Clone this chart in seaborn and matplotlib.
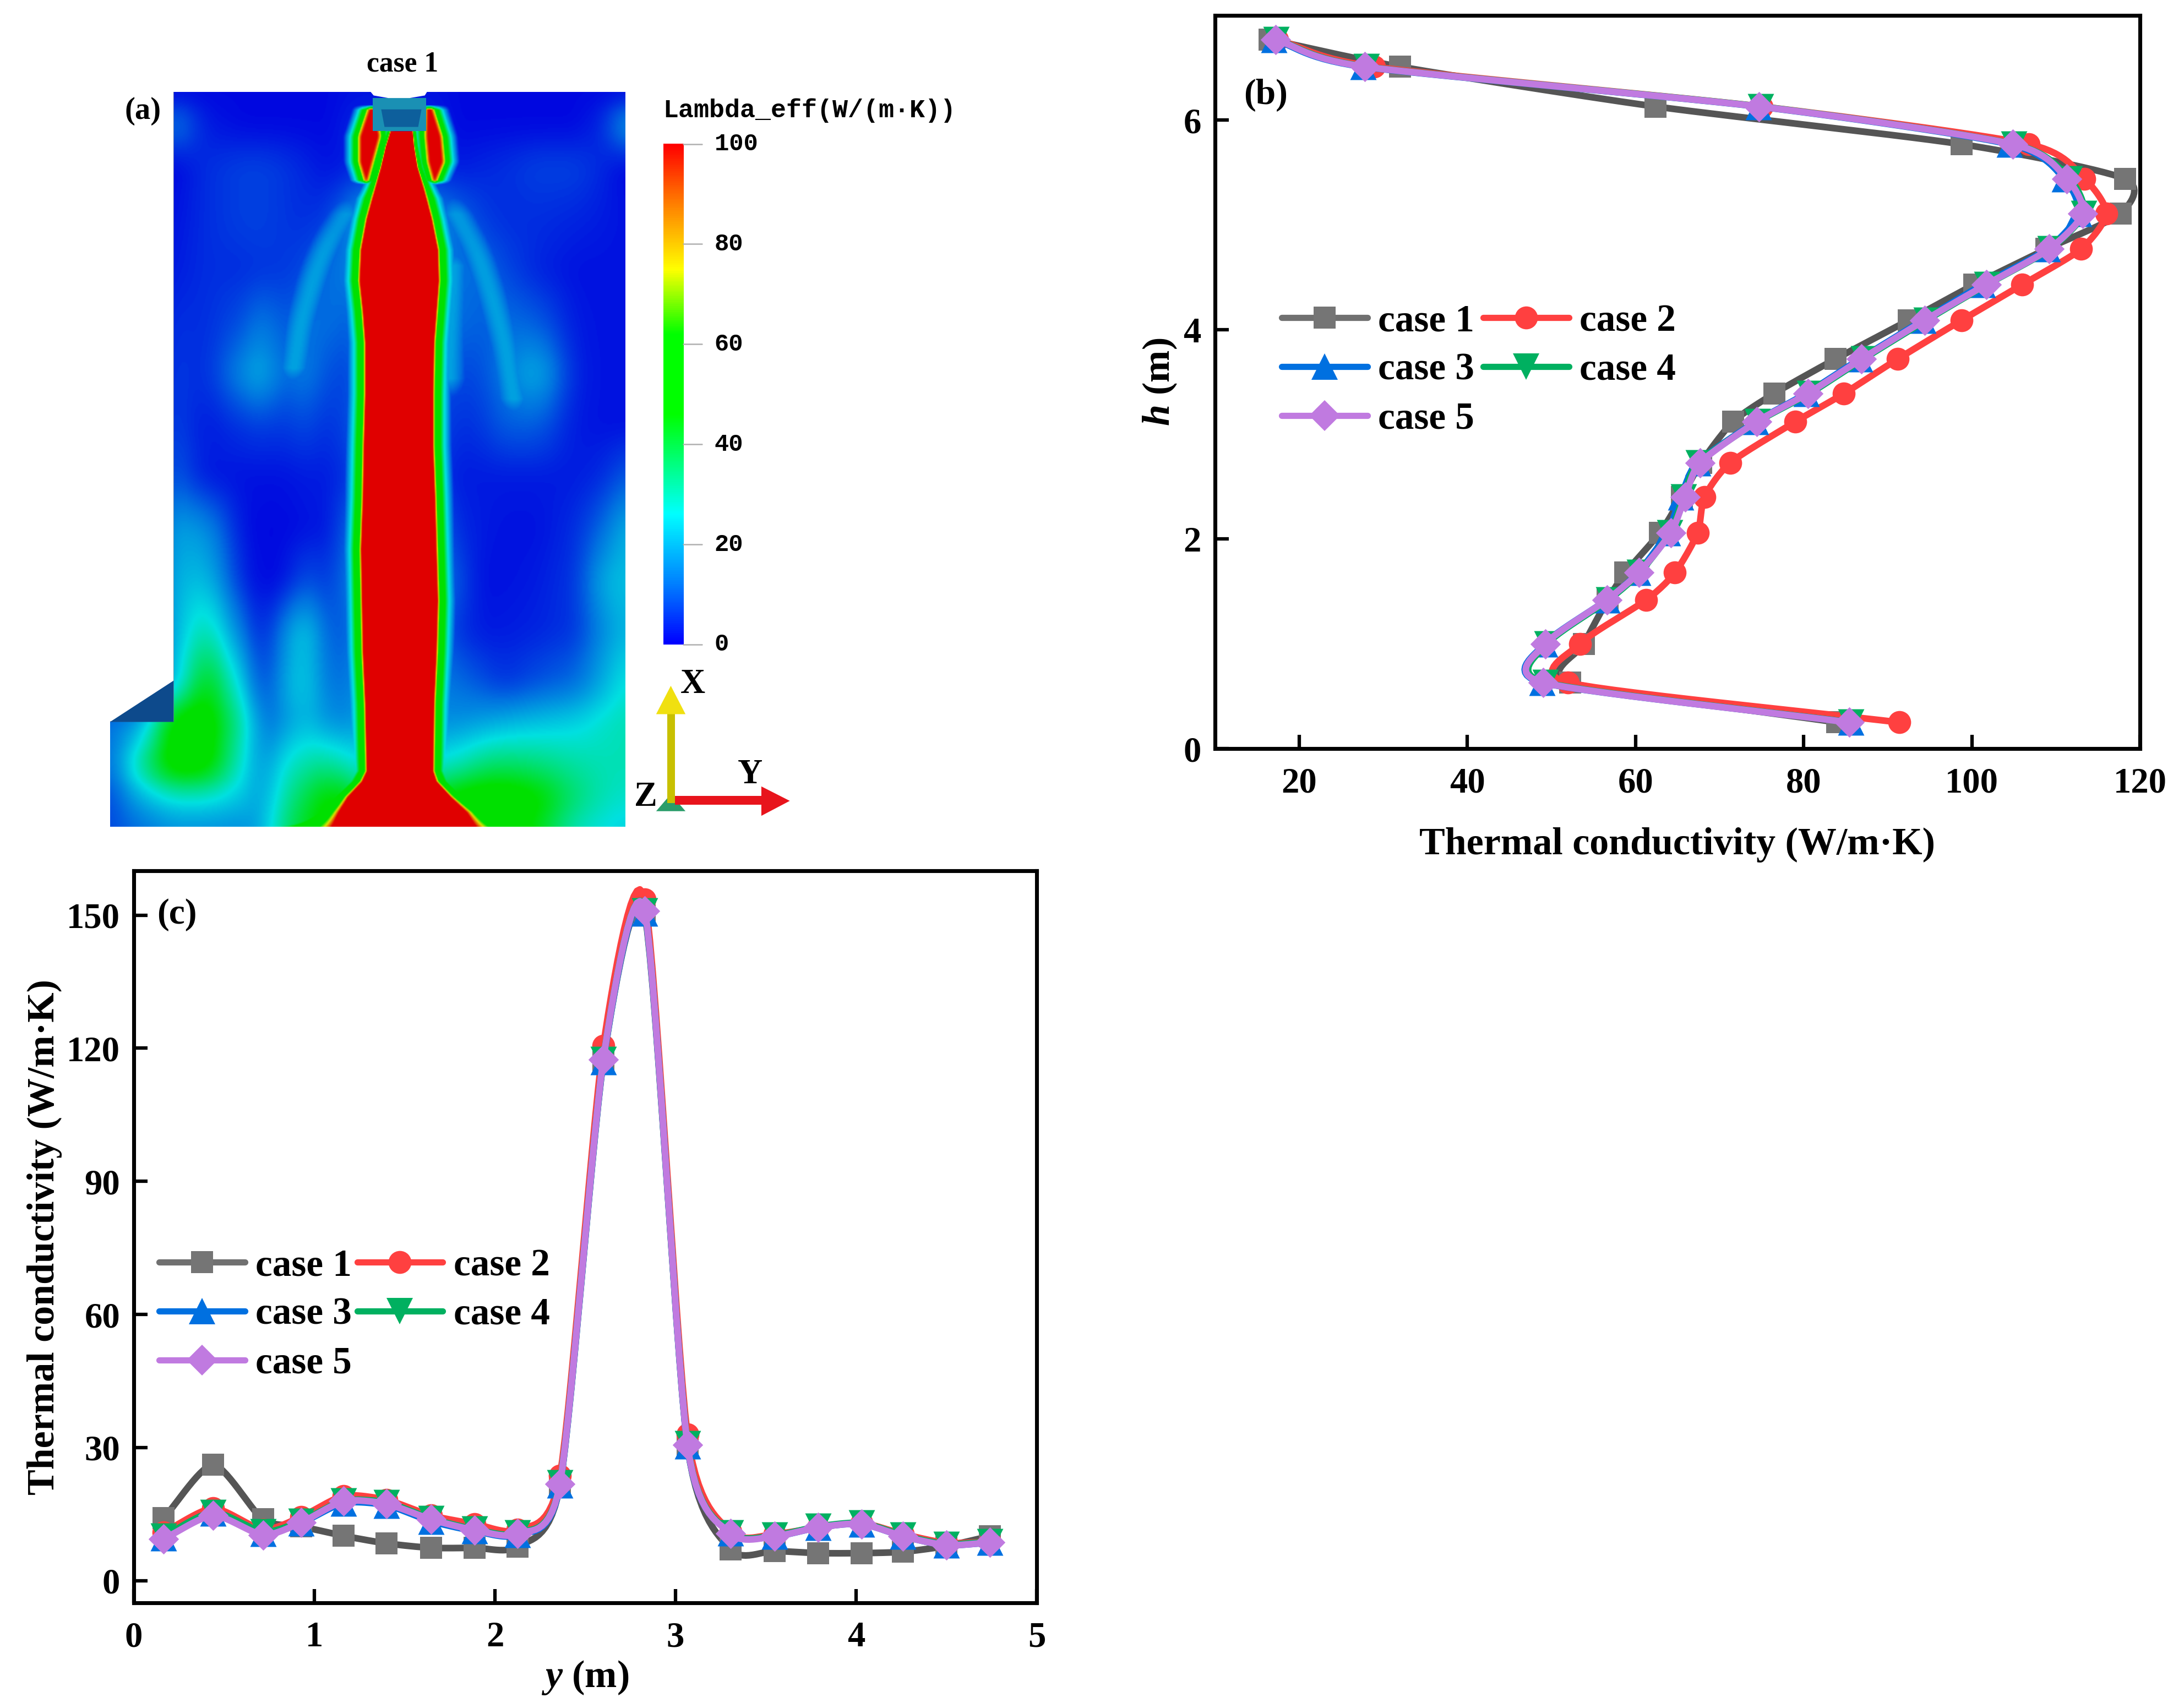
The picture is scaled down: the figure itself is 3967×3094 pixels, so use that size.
import numpy as np
import pandas as pd
import matplotlib
matplotlib.use("Agg")
import matplotlib.pyplot as plt
import seaborn as sns
from matplotlib.colors import LinearSegmentedColormap, to_rgb
from matplotlib.lines import Line2D

# panel (b): profile along height
h_pos = [6.77, 6.51, 6.13, 5.77, 5.44, 5.11, 4.77, 4.43, 4.09, 3.72,
         3.39, 3.12, 2.73, 2.40, 2.06, 1.68, 1.42, 1.00, 0.63, 0.25]
b_case1 = [16.5, 32.0, 62.4, 98.8, 118.2, 117.7, 108.9, 100.3, 92.5, 83.8,
           76.5, 71.6, 67.8, 65.5, 62.9, 58.8, 56.7, 53.9, 52.2, 84.0]
b_case2 = [17.4, 28.9, 75.0, 106.8, 113.4, 116.0, 113.0, 106.0, 98.8, 91.2,
           84.8, 79.0, 71.3, 68.2, 67.4, 64.7, 61.3, 53.4, 52.0, 91.4]
b_case3 = [17.0, 27.6, 74.6, 104.5, 111.0, 112.7, 109.0, 101.3, 94.2, 86.7,
           80.3, 74.3, 67.4, 65.4, 63.8, 60.3, 56.6, 49.2, 48.9, 85.6]
b_case4 = [17.3, 28.0, 74.9, 105.0, 111.6, 113.3, 109.3, 101.8, 94.6, 87.1,
           80.7, 74.5, 67.5, 65.7, 64.1, 60.5, 56.8, 49.5, 49.3, 85.6]
b_case5 = [17.2, 27.8, 74.7, 104.9, 111.3, 113.2, 109.2, 101.7, 94.4, 86.9,
           80.5, 74.4, 67.7, 65.9, 64.2, 60.4, 56.6, 49.3, 49.0, 85.4]

# panel (c): profile along y
y_pos = [0.166, 0.44, 0.715, 0.927, 1.162, 1.40, 1.646, 1.887, 2.126, 2.36,
         2.60, 2.83, 3.066, 3.306, 3.55, 3.79, 4.03, 4.26, 4.50, 4.74]
c_case1 = [14.1, 26.1, 13.8, 12.2, 10.1, 8.4, 7.4, 7.4, 7.7, 21.5,
           117.0, 150.0, 30.5, 7.0, 6.7, 6.2, 6.2, 6.5, 7.8, 10.0]
c_case2 = [10.9, 16.3, 11.5, 14.4, 19.1, 18.2, 14.7, 12.8, 11.5, 23.6,
           120.5, 153.5, 33.0, 11.0, 10.5, 12.0, 13.0, 10.5, 8.5, 8.8]
c_case3 = [9.6, 15.2, 10.6, 13.0, 17.5, 17.0, 13.4, 11.2, 10.4, 21.5,
           117.0, 150.5, 30.4, 10.8, 10.0, 12.0, 12.8, 10.0, 8.0, 8.6]
c_case4 = [10.0, 15.4, 11.0, 13.4, 18.0, 17.6, 14.0, 11.6, 10.8, 22.0,
           117.5, 151.0, 30.8, 10.8, 10.2, 12.2, 13.0, 10.2, 8.2, 8.8]
c_case5 = [9.4, 14.7, 10.3, 13.1, 17.9, 17.3, 13.8, 11.4, 10.6, 21.8,
           117.4, 150.9, 30.6, 10.6, 10.0, 12.0, 12.8, 10.0, 8.0, 8.6]

case_names = ["case 1", "case 2", "case 3", "case 4", "case 5"]
line_colors = ["#555555", "#ff4040", "#0070e0", "#00b060", "#c07ae0"]
marker_colors = ["#757575", "#ff4040", "#0070e0", "#00b060", "#c07ae0"]
legend_line_colors = ["#707070", "#ff4040", "#0070e0", "#00b060", "#c07ae0"]
marker_shapes = ["s", "o", "^", "v", "D"]
marker_sizes = [9.4, 10.0, 11.5, 11.5, 9.4]

# panel (a): background field
bg_u = [58, 120, 192, 260, 340, 380, 420, 470, 520, 570, 650, 740, 790, 840, 890, 960, 1040, 1100, 1145]
bg_v = [115, 175, 260, 360, 460, 560, 660, 760, 860, 960, 1060, 1160, 1260, 1335, 1420, 1480, 1538]
bg_vals = [
    [1, 1, 1, 1, 1, 1, 1, 1, 1, 2, 2, 2, 1, 1, 1, 1, 1, 1, 1],
    [1, 1, 14, 3, 1, 1, 1, 1, 1, 4, 4, 4, 1, 1, 1, 1, 1, 5, 18],
    [1, 1, 1, 5, 7, 7, 6, 4, 2, 4, 6, 4, 3, 4, 5, 7, 7, 4, 1],
    [1, 1, 2, 5, 7, 7, 6, 5, 7, 16, 24, 16, 12, 7, 5, 5, 4, 3, 2],
    [1, 1, 3, 5, 5, 6, 6, 8, 12, 14, 24, 14, 12, 12, 8, 4, 2, 2, 2],
    [1, 1, 5, 5, 9, 14, 9, 12, 12, 10, 24, 10, 12, 10, 12, 10, 3, 2, 2],
    [1, 1, 6, 5, 16, 20, 11, 14, 8, 8, 24, 8, 8, 8, 14, 20, 4, 2, 2],
    [1, 1, 7, 3, 6, 7, 6, 8, 5, 9, 24, 9, 5, 6, 10, 10, 3, 2, 2],
    [1, 1, 10, 3, 2, 2, 2, 3, 3, 7, 24, 7, 3, 3, 3, 3, 3, 5, 10],
    [1, 1, 18, 16, 2, 1, 1, 2, 3, 13, 24, 13, 5, 3, 2, 2, 5, 12, 20],
    [1, 1, 20, 22, 4, 1, 2, 9, 6, 15, 24, 15, 9, 2, 2, 3, 6, 20, 22],
    [1, 1, 20, 32, 12, 3, 14, 24, 9, 12, 24, 12, 6, 3, 3, 4, 6, 16, 21],
    [1, 1, 22, 46, 22, 6, 18, 24, 12, 14, 24, 14, 12, 9, 6, 9, 12, 20, 27],
    [12, 18, 50, 52, 30, 12, 16, 22, 16, 16, 24, 16, 16, 18, 20, 22, 24, 28, 30],
    [12, 33, 52, 50, 26, 16, 26, 32, 34, 28, 24, 28, 30, 36, 38, 36, 32, 30, 30],
    [8, 20, 28, 28, 22, 18, 30, 40, 48, 44, 24, 44, 50, 52, 52, 48, 36, 30, 28],
    [8, 12, 16, 16, 16, 20, 34, 44, 50, 52, 24, 52, 52, 54, 52, 44, 30, 26, 24],
]

# red core outline
plume_v = [190, 220, 260, 300, 360, 420, 480, 540, 600, 700, 800, 900, 1000, 1100, 1200, 1300, 1430, 1450, 1480, 1510, 1538]
plume_l = [650, 640, 630, 618, 600, 588, 585, 592, 597, 597, 594, 592, 588, 590, 592, 597, 600, 590, 560, 540, 525]
plume_r = [695, 698, 705, 718, 735, 748, 750, 745, 740, 738, 738, 742, 745, 748, 745, 740, 738, 745, 775, 810, 830]
ear_v = [145, 200, 250, 290]
ear_left_l = [605, 585, 585, 598]
ear_left_r = [615, 625, 610, 598]
ear_right_l = [726, 725, 730, 742]
ear_right_r = [736, 755, 760, 742]
halo_dist = [0, 3, 6, 16, 24, 45]
halo_val = [100, 75, 58, 47, 28, 0]
flare_v = [190, 320, 1430, 1538]
flare_scale = [2.5, 1.0, 1.0, 0.2]

# thin wings either side of the plume
wing_left_v = [320, 360, 400, 460, 560, 680]
wing_left_u = [575, 550, 520, 492, 460, 440]
wing_right_v = [320, 420, 500, 600, 740]
wing_right_u = [770, 830, 860, 890, 915]
wing_inner_v = [420, 500, 600, 700]
wing_inner_u = [780, 778, 772, 770]
wing_dist = [0, 14, 45]
wing_val = [26, 20, 0]

# colour bar
cbar_stops = [0, 12, 26, 36, 46, 62, 75, 88, 100]
cbar_colors = ["#0000ff", "#0080ff", "#00ffff", "#00ff80", "#00ff00", "#00ff00", "#ffff00", "#ff8000", "#ff0000"]
cbar_ticks = [0, 20, 40, 60, 80, 100]

sns.set_theme(style="ticks")
plt.rcParams["font.family"] = ["Liberation Serif", "DejaVu Serif"]
plt.rcParams["font.weight"] = "bold"
plt.rcParams["axes.labelweight"] = "bold"
plt.rcParams["mathtext.fontset"] = "custom"
plt.rcParams["mathtext.rm"] = "Liberation Serif:bold"
plt.rcParams["mathtext.it"] = "Liberation Serif:italic:bold"
plt.rcParams["xtick.direction"] = "in"
plt.rcParams["ytick.direction"] = "in"
plt.rcParams["text.color"] = "black"
plt.rcParams["axes.labelcolor"] = "black"

FIG_W, FIG_H = 3967, 3094
fig = plt.figure(figsize=(FIG_W / 300, FIG_H / 300), dpi=300, facecolor="white")


def px_axes(left, top, right, bottom):
    return fig.add_axes([left / FIG_W, 1 - bottom / FIG_H, (right - left) / FIG_W, (bottom - top) / FIG_H])


def smooth_curve(x, y, n=14, tension=0.72):
    # cardinal spline through the points, the figure's curves are splines
    p = np.column_stack([x, y]).astype(float)
    p = np.vstack([2 * p[0] - p[1], p, 2 * p[-1] - p[-2]])
    out = []
    t = np.linspace(0, 1, n, endpoint=False)[:, None]
    h00 = 2 * t**3 - 3 * t**2 + 1
    h10 = t**3 - 2 * t**2 + t
    h01 = -2 * t**3 + 3 * t**2
    h11 = t**3 - t**2
    for i in range(1, len(p) - 2):
        m0 = tension * (p[i + 1] - p[i - 1]) / 2
        m1 = tension * (p[i + 2] - p[i]) / 2
        out.append(h00 * p[i] + h10 * m0 + h01 * p[i + 1] + h11 * m1)
    out.append(p[-2][None, :])
    out = np.vstack(out)
    return out[:, 0], out[:, 1]


def draw_cases(ax, xs, ys):
    for i, name in enumerate(case_names):
        sx, sy = smooth_curve(xs[i], ys[i])
        curve = pd.DataFrame({"x": sx, "y": sy})
        sns.lineplot(data=curve, x="x", y="y", sort=False, estimator=None, color=line_colors[i],
                     linewidth=2.9, ax=ax, legend=False, zorder=3 + i)
        points = pd.DataFrame({"x": xs[i], "y": ys[i]})
        sns.scatterplot(data=points, x="x", y="y", marker=marker_shapes[i], color=marker_colors[i],
                        s=marker_sizes[i] ** 2, linewidth=0, ax=ax, legend=False, zorder=3 + i, clip_on=False)


def add_legend(ax, left_px, top_px, col_gap):
    order = [0, 2, 4, 1, 3]
    handles = [Line2D([], [], color=legend_line_colors[i], lw=2.7, marker=marker_shapes[i], ms=marker_sizes[i],
                      mec=marker_colors[i], mfc=marker_colors[i], mew=0, solid_capstyle="round") for i in order]
    labels = [case_names[i] for i in order]
    ax.legend(handles, labels, ncol=2, frameon=False, fontsize=16.6, loc="upper left",
              bbox_to_anchor=(left_px / FIG_W, 1 - top_px / FIG_H), bbox_transform=fig.transFigure,
              borderpad=0, borderaxespad=0, handlelength=2.25, handletextpad=0.28, columnspacing=col_gap,
              labelspacing=0.36, numpoints=1)


def style_axes(ax):
    for side in ax.spines:
        ax.spines[side].set_visible(True)
        ax.spines[side].set_linewidth(1.7)
        ax.spines[side].set_color("black")
    ax.tick_params(axis="both", which="major", length=6, width=1.5, labelsize=15.5, color="black",
                   top=False, right=False, labelcolor="black")
    ax.tick_params(axis="x", pad=8)
    ax.tick_params(axis="y", pad=6)
    ax.grid(False)


def box_smooth(a, w):
    kernel = np.ones(w) / w
    a = np.pad(a, ((w, w), (w, w)), mode="edge")
    a = np.apply_along_axis(lambda r: np.convolve(r, kernel, mode="same"), 1, a)
    a = np.apply_along_axis(lambda r: np.convolve(r, kernel, mode="same"), 0, a)
    return a[w:-w, w:-w]


def outline_field(uu, vv, v_nodes, left, right):
    # distance outside an outline, big where the outline does not reach
    lo = np.interp(vv, v_nodes, left)
    hi = np.interp(vv, v_nodes, right)
    dist = np.maximum(lo[:, None] - uu[None, :], uu[None, :] - hi[:, None])
    dist[(vv < v_nodes[0]) | (vv > v_nodes[-1]), :] = 1000
    return dist


# ---- panel (a)
ax_a = px_axes(150, 60, 1500, 1530)
uu = np.arange(58, 1146, 2.0)
vv = np.arange(115, 1539, 2.0)
bg = np.array([np.interp(uu, bg_u, row) for row in bg_vals])
bg = np.array([np.interp(vv, bg_v, col) for col in bg.T]).T
bg = box_smooth(bg, 31)
for w_v, w_u in ((wing_left_v, wing_left_u), (wing_right_v, wing_right_u), (wing_inner_v, wing_inner_u)):
    wing = np.interp(np.abs(outline_field(uu, vv, w_v, w_u, w_u)), wing_dist, wing_val)
    bg = np.maximum(bg, box_smooth(wing, 31))

scale = np.interp(vv, flare_v, flare_scale)[:, None]
d_core = outline_field(uu, vv, plume_v, plume_l, plume_r) * scale
d_ear_l = outline_field(uu, vv, ear_v, ear_left_l, ear_left_r) * 1.2
d_ear_r = outline_field(uu, vv, ear_v, ear_right_l, ear_right_r) * 1.2
field = bg.copy()
field = np.maximum(field, np.interp(d_core, halo_dist, halo_val))
for dist in (d_ear_l, d_ear_r):
    field = np.maximum(field, box_smooth(np.interp(dist, halo_dist, halo_val), 5))
field[np.ix_(vv < 1335, uu < 192)] = np.nan

cbar_cmap = LinearSegmentedColormap.from_list("lambda_bar", [(s / 100, c) for s, c in zip(cbar_stops, cbar_colors)])
field_cmap = LinearSegmentedColormap.from_list(
    "lambda_field", [(s / 100, tuple(np.array(to_rgb(c)) * 0.88)) for s, c in zip(cbar_stops, cbar_colors)])
ax_a.imshow(field, extent=(58, 1145, 1538, 115), cmap=field_cmap, vmin=0, vmax=100, aspect="auto",
            interpolation="bilinear", zorder=1)
ax_a.imshow(np.linspace(100, 0, 256)[:, None], extent=(1225, 1267, 1185, 215), cmap=cbar_cmap, vmin=0, vmax=100,
            aspect="auto", zorder=1)

# side inlet top face and nozzle cap
ax_a.fill([58, 192, 192], [1335, 1255, 1335], color="#0d4a8c", lw=0, zorder=2)
ax_a.fill([612, 725, 725, 612], [126, 126, 190, 190], color="#1a90b4", lw=0, zorder=2)
ax_a.fill([630, 715, 708, 637], [148, 148, 182, 182], color="#0d5f9c", lw=0, zorder=2)
ax_a.fill([606, 728, 722, 690, 645, 614], [112, 112, 121, 126, 126, 121], color="white", lw=0, zorder=3)

for tick in cbar_ticks:
    v = 1185 - tick * 9.7
    ax_a.plot([1267, 1307], [v, v], color="#b0b0b0", lw=0.6, zorder=2)
    ax_a.text(1333, v, str(tick), family=["Liberation Mono"], weight="bold", fontsize=10.5, va="center", ha="left")
ax_a.text(1225, 150, "Lambda_eff(W/(m·K))", family=["Liberation Mono"], weight="bold", fontsize=11.2, va="center", ha="left")
ax_a.text(675, 60, "case 1", fontsize=12.4, ha="center", va="center")
ax_a.text(127, 152, "(a)", fontsize=13.6, ha="center", va="center")

# axis triad
ax_a.fill([1210, 1272, 1241], [1508, 1508, 1475], color="#2a9d6a", lw=0, zorder=2)
ax_a.fill([1233, 1250, 1250, 1233], [1320, 1320, 1492, 1492], color="#c8c000", lw=0, zorder=3)
ax_a.fill([1210, 1272, 1241], [1320, 1320, 1265], color="#f0e010", lw=0, zorder=3)
ax_a.fill([1250, 1435, 1435, 1250], [1478, 1478, 1496, 1496], color="#e8141c", lw=0, zorder=4)
ax_a.fill([1432, 1432, 1492], [1460, 1517, 1488], color="#e8141c", lw=0, zorder=4)
ax_a.text(1288, 1263, "X", fontsize=15, ha="center", va="center")
ax_a.text(1408, 1438, "Y", fontsize=15, ha="center", va="center")
ax_a.text(1188, 1482, "Z", fontsize=15, ha="center", va="center")
ax_a.set_xlim(0, 1568)
ax_a.set_ylim(1568, 0)
ax_a.axis("off")

# ---- panel (b)
ax_b = px_axes(2207, 28, 3887, 1360)
draw_cases(ax_b, [b_case1, b_case2, b_case3, b_case4, b_case5], [h_pos] * 5)
ax_b.set_xlim(10, 120)
ax_b.set_ylim(0, 7)
ax_b.set_xticks([20, 40, 60, 80, 100, 120])
ax_b.set_yticks([0, 2, 4, 6])
style_axes(ax_b)
ax_b.set_xlabel("Thermal conductivity (W/m·K)", fontsize=16.8, labelpad=12)
ax_b.set_ylabel(r"$\mathit{h}$ (m)", fontsize=16.8, labelpad=2)
fig.text(2299 / FIG_W, 1 - 173 / FIG_H, "(b)", fontsize=15.7, ha="center", va="center")
add_legend(ax_b, 2328, 552, 0.24)

# ---- panel (c)
ax_c = px_axes(243, 1582, 1883, 2912)
draw_cases(ax_c, [y_pos] * 5, [c_case1, c_case2, c_case3, c_case4, c_case5])
ax_c.set_xlim(0, 5)
ax_c.set_ylim(-5, 160)
ax_c.set_xticks([0, 1, 2, 3, 4, 5])
ax_c.set_yticks([0, 30, 60, 90, 120, 150])
style_axes(ax_c)
ax_c.set_xlabel(r"$\mathit{y}$ (m)", fontsize=16.8, labelpad=2)
ax_c.set_ylabel("Thermal conductivity (W/m·K)", fontsize=16.8, labelpad=2)
fig.text(321 / FIG_W, 1 - 1662 / FIG_H, "(c)", fontsize=15.7, ha="center", va="center")
add_legend(ax_c, 289, 2268, 0.14)

fig.savefig("out.png", dpi=300, facecolor="white")
